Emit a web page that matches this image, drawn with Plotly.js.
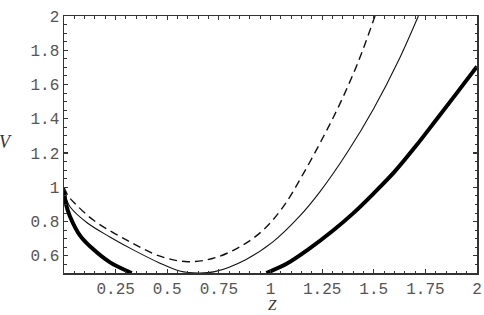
<!DOCTYPE html>
<html>
<head>
<meta charset="utf-8">
<script src="https://cdn.plot.ly/plotly-3.0.1.min.js"></script>
<style>html,body{margin:0;padding:0;background:#fff;}#chart{width:484px;height:315px;}</style>
</head>
<body>
<div id="chart"></div>
<script>
// Dashed curve
const zDashed = [0, 0.02, 0.053, 0.142, 0.304, 0.465, 0.6, 0.723, 0.852, 0.965, 1.062, 1.159, 1.256, 1.337, 1.425, 1.506];
const vDashed = [1.0, 0.95, 0.906, 0.809, 0.692, 0.598, 0.566, 0.586, 0.653, 0.751, 0.887, 1.08, 1.295, 1.49, 1.733, 2.0];
// Thin solid curve
const zThin = [0, 0.012, 0.03, 0.11, 0.22, 0.34, 0.46, 0.56, 0.65, 0.73, 0.88, 1.01, 1.14, 1.24, 1.37, 1.5, 1.62, 1.716];
const vThin = [0.99, 0.93, 0.885, 0.795, 0.712, 0.632, 0.56, 0.512, 0.5, 0.508, 0.578, 0.68, 0.83, 0.975, 1.2, 1.46, 1.74, 2.0];
// Thick solid curve (leaves the plotted range between the two pieces)
const zThick = [0, 0.01, 0.029, 0.077, 0.142, 0.223, 0.328, null, 0.98, 1.08, 1.18, 1.3, 1.4, 1.5, 1.6, 1.7, 1.8, 1.9, 2.0];
const vThick = [0.98, 0.9, 0.83, 0.72, 0.638, 0.562, 0.5, null, 0.5, 0.555, 0.635, 0.745, 0.848, 0.965, 1.09, 1.235, 1.39, 1.547, 1.705];

const xTickVals = [0.25, 0.5, 0.75, 1, 1.25, 1.5, 1.75, 2];
const xTickText = ['0.25', '0.5', '0.75', '1', '1.25', '1.5', '1.75', '2'];
const yTickVals = [0.6, 0.8, 1, 1.2, 1.4, 1.6, 1.8, 2];
const yTickText = ['0.6', '0.8', '1', '1.2', '1.4', '1.6', '1.8', '2'];

const traces = [
  {x: zDashed, y: vDashed, mode: 'lines', line: {color: '#111', width: 1.4, dash: '8px,5px', shape: 'spline', smoothing: 1}, hoverinfo: 'skip'},
  {x: zThin, y: vThin, mode: 'lines', line: {color: '#111', width: 1.1, shape: 'spline', smoothing: 1}, hoverinfo: 'skip'},
  {x: zThick, y: vThick, mode: 'lines', connectgaps: false, line: {color: '#000', width: 4, shape: 'spline', smoothing: 1}, hoverinfo: 'skip'}
];

const axisCommon = {
  showgrid: false, zeroline: false, showline: true, mirror: 'allticks',
  linecolor: '#333', linewidth: 1.5, ticks: 'inside', ticklen: 4, tickwidth: 1.2, tickcolor: '#333',
  tickfont: {family: 'Liberation Mono, Courier New, monospace', size: 16, color: '#555'},
  fixedrange: true
};

const layout = {
  width: 484, height: 315,
  margin: {l: 64, r: 7, t: 16, b: 42},
  paper_bgcolor: '#fff', plot_bgcolor: '#fff',
  showlegend: false,
  xaxis: Object.assign({}, axisCommon, {
    range: [0, 2], tickmode: 'array', tickvals: xTickVals, ticktext: xTickText,
    minor: {tickmode: 'linear', tick0: 0, dtick: 0.05, ticks: 'inside', ticklen: 2.5, tickcolor: '#333', tickwidth: 1}
  }),
  yaxis: Object.assign({}, axisCommon, {
    range: [0.5, 2], tickmode: 'array', tickvals: yTickVals, ticktext: yTickText,
    minor: {tickmode: 'linear', tick0: 0.5, dtick: 0.05, ticks: 'inside', ticklen: 2.5, tickcolor: '#333', tickwidth: 1}
  }),
  annotations: [
    {text: '<i>V</i>', xref: 'paper', yref: 'paper', x: -0.142, y: 0.51, showarrow: false,
     font: {family: 'Liberation Serif, Times New Roman, serif', size: 18, color: '#333'}, xanchor: 'center', yanchor: 'middle'},
    {text: '<i>Z</i>', xref: 'paper', yref: 'paper', x: 0.504, y: -0.164, showarrow: false,
     font: {family: 'Liberation Serif, Times New Roman, serif', size: 15, color: '#333'}, xanchor: 'center', yanchor: 'bottom'}
  ]
};

Plotly.newPlot('chart', traces, layout, {staticPlot: true, displayModeBar: false});
</script>
</body>
</html>
